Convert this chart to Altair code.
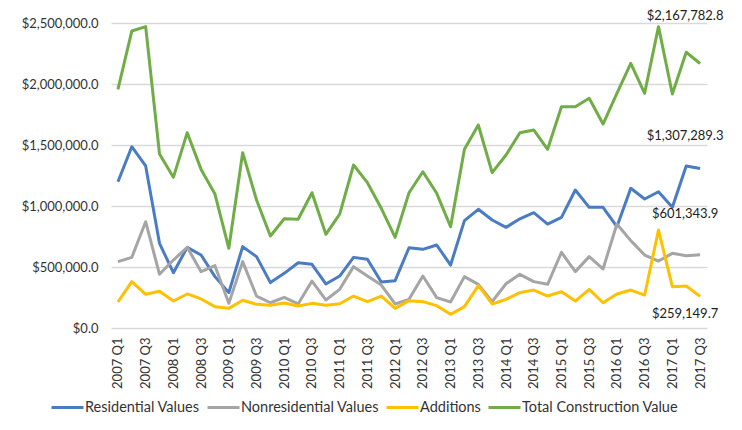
import altair as alt
import pandas as pd

# Quarterly construction values, 2007 Q1 - 2017 Q3
years = list(range(2007, 2018))
quarters = [f"{y} Q{q}" for y in years for q in range(1, 5)][:43]

residential = [1199000, 1486000, 1328000, 694000, 453000, 661000, 598000, 421000, 290000, 667000,
               585000, 372000, 448000, 535000, 522000, 361000, 426000, 579000, 563000, 377000,
               388000, 658000, 645000, 680000, 516000, 880000, 973000, 885000, 825000, 895000,
               945000, 852000, 907000, 1131000, 989000, 989000, 830000, 1145000, 1057000, 1117000,
               989000, 1328000, 1307289.3]
nonresidential = [544000, 579000, 871000, 440000, 557000, 661000, 462000, 511000, 202000, 544000,
                  262000, 207000, 251000, 197000, 385000, 230000, 317000, 503000, 426000, 352000,
                  197000, 235000, 426000, 249000, 213000, 421000, 358000, 216000, 363000, 440000,
                  380000, 358000, 620000, 462000, 585000, 484000, 852000, 716000, 598000, 549000,
                  612000, 593000, 601343.9]
additions = [213000, 380000, 276000, 301000, 221000, 279000, 238000, 175000, 161000, 227000,
             194000, 186000, 205000, 180000, 202000, 186000, 199000, 262000, 216000, 262000,
             161000, 224000, 216000, 183000, 112000, 175000, 347000, 197000, 235000, 290000,
             311000, 262000, 298000, 221000, 317000, 207000, 279000, 311000, 270000, 803000,
             339000, 344000, 259149.7]
total = [1956000, 2434000, 2470000, 1426000, 1235000, 1601000, 1300000, 1098000, 653000, 1437000,
         1049000, 754000, 896000, 891000, 1109000, 768000, 934000, 1336000, 1191000, 981000,
         743000, 1109000, 1281000, 1104000, 830000, 1465000, 1664000, 1273000, 1418000, 1601000,
         1623000, 1465000, 1814000, 1814000, 1883000, 1672000, 1924000, 2170000, 1924000, 2470000,
         1918000, 2260000, 2167782.8]

series_names = ["Residential Values", "Nonresidential Values", "Additions", "Total Construction Value"]
series_colors = ["#4A7CC4", "#A5A5A5", "#FFC000", "#70AD47"]
series_values = [residential, nonresidential, additions, total]

rows = []
for name, vals in zip(series_names, series_values):
    for i, (q, v) in enumerate(zip(quarters, vals)):
        rows.append({"Quarter": q, "Series": name, "Value": v, "idx": i})
df = pd.DataFrame(rows)

# only every other quarter gets a tick label
shown_labels = quarters[::2]

FONT = "Lato"

x_enc = alt.X(
    "Quarter:O",
    sort=quarters,
    scale=alt.Scale(domain=quarters, padding=0.5),
    axis=alt.Axis(
        title=None, values=shown_labels, labelAngle=270, ticks=False, domain=False,
        labelPadding=9, labelFontSize=13, labelColor="#333333", labelFont=FONT, grid=False,
    ),
)
y_enc = alt.Y(
    "Value:Q",
    scale=alt.Scale(domain=[0, 2500000], nice=False),
    axis=alt.Axis(
        title=None, format="$,.1f", values=[0, 500000, 1000000, 1500000, 2000000, 2500000],
        ticks=False, domain=False, labelPadding=13, labelFontSize=13, labelColor="#333333",
        labelFont=FONT, gridColor="#D9D9D9", gridWidth=1.5,
    ),
)

lines = alt.Chart(df).mark_line(strokeWidth=3, strokeJoin="round").encode(
    x=x_enc,
    y=y_enc,
    color=alt.Color(
        "Series:N",
        scale=alt.Scale(domain=series_names, range=series_colors),
        legend=alt.Legend(
            title=None, orient="none", direction="horizontal", legendX=-61, legendY=367,
            symbolType="stroke", symbolSize=1024, symbolStrokeWidth=3, labelFontSize=14.5,
            labelFont=FONT, labelColor="#333333", labelOffset=0, columnPadding=1,
            labelLimit=400,
        ),
    ),
    order="idx:Q",
)

# value labels at the last quarter of each series
label_offsets = {
    "Total Construction Value": -48,
    "Residential Values": -33,
    "Nonresidential Values": -41,
    "Additions": 18,
}
last_df = df[df["idx"] == len(quarters) - 1]
text_layers = []
for name, dy in label_offsets.items():
    t = alt.Chart(last_df[last_df["Series"] == name]).mark_text(
        dx=-15, dy=dy, fontSize=13, font=FONT, color="#222222", align="center",
    ).encode(
        x=alt.X("Quarter:O", sort=quarters, scale=alt.Scale(domain=quarters, padding=0.5)),
        y=alt.Y("Value:Q"),
        text=alt.Text("Value:Q", format="$,.1f"),
    )
    text_layers.append(t)

chart = alt.layer(lines, *text_layers).properties(
    width=596,
    height=305,
    autosize=alt.AutoSizeParams(type="none"),
    padding={"left": 111, "top": 23, "right": 35, "bottom": 102},
    background="white",
).configure_view(stroke=None)

chart.save("out.html", embed_options={"renderer": "svg", "actions": False})
